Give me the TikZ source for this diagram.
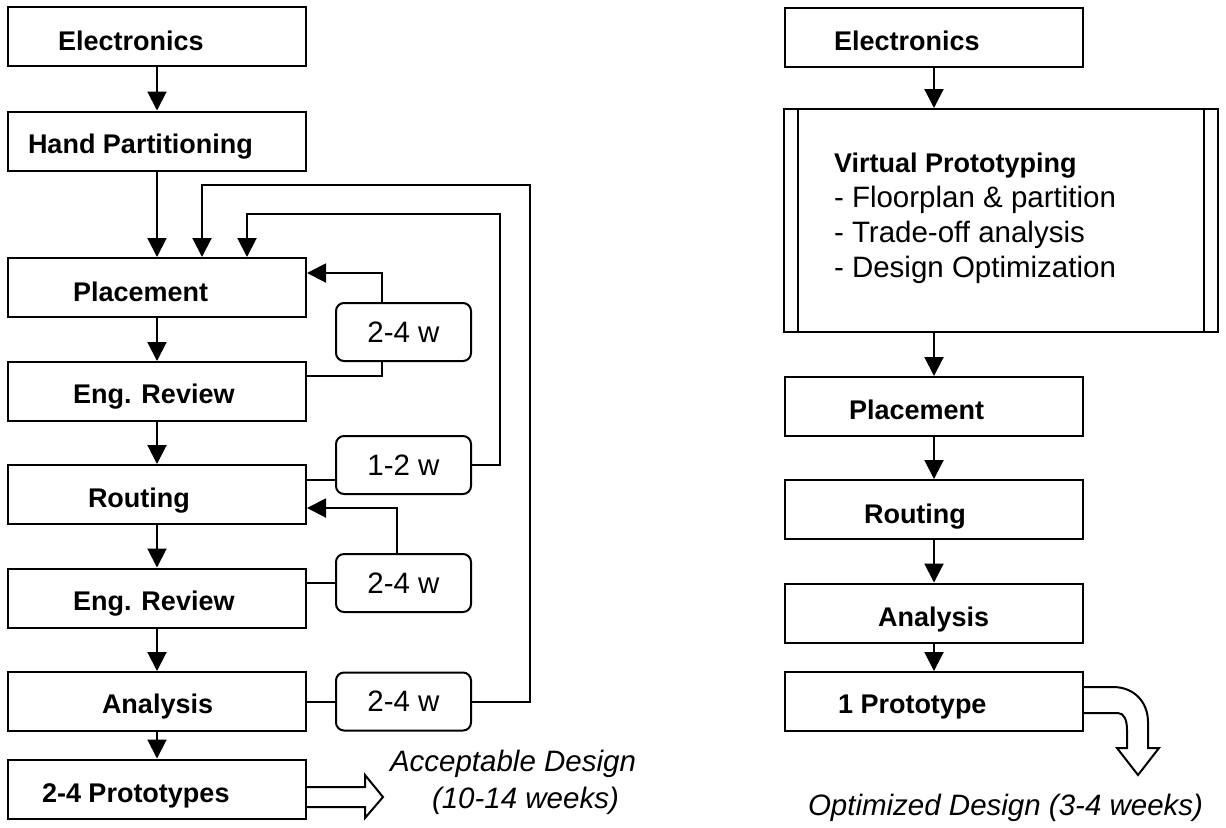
\documentclass[tikz,border=0pt]{standalone}
\usepackage{fontspec}
\setmainfont{Liberation Sans}
\usetikzlibrary{arrows.meta}

\begin{document}
\begin{tikzpicture}[x=0.5pt,y=-0.5pt,line width=1pt,
    >={Triangle[length=9.5pt,width=9.5pt]},
    box/.style={draw,minimum width=149pt,minimum height=29.5pt,inner sep=0pt},
    wk/.style={draw,rounded corners=4pt,minimum width=67.5pt,minimum height=29pt,inner sep=0pt,font=\fontsize{14.75}{17}\selectfont},
    lbl/.style={anchor=base west,inner sep=0pt,font=\fontsize{13.5}{16}\selectfont\bfseries},
    txt/.style={anchor=base west,inner sep=0pt,font=\fontsize{14.75}{17}\selectfont},
    note/.style={anchor=base west,inner sep=0pt,font=\fontsize{14.75}{17}\selectfont\itshape}]
    \useasboundingbox (0,0) rectangle (1226,827);

    % Left flow
    \node[box] (le) at (157,36.5) {};
    \node[lbl] (let) at (57,50) {Electronics};
    \node[box] (lh) at (157,141) {};
    \node[lbl] (lht) at (27,153) {Hand Partitioning};
    \node[box] (lp) at (157,287.5) {};
    \node[lbl] (lpt) at (72,301) {Placement};
    \node[box] (lr1) at (157,391.5) {};
    \node[lbl] (lr1t) at (72,403) {Eng. Review};
    \node[box] (lro) at (157,494.5) {};
    \node[lbl] (lrot) at (87,507) {Routing};
    \node[box] (lr2) at (157,598) {};
    \node[lbl] (lr2t) at (72,610) {Eng. Review};
    \node[box] (la) at (157,701.5) {};
    \node[lbl] (lat) at (101,713) {Analysis};
    \node[box] (lpr) at (157,789) {};
    \node[lbl] (lprt) at (41,802) {2-4 Prototypes};

    \draw[->] (le) -- (lh);
    \draw[->] (lh) -- (lp);
    \draw[->] (lp) -- (lr1);
    \draw[->] (lr1) -- (lro);
    \draw[->] (lro) -- (lr2);
    \draw[->] (lr2) -- (la);
    \draw[->] (la) -- (lpr);

    % Iterations
    \node[wk] (fa) at (403.5,332) {2-4 w};
    \node[wk] (fb) at (403.5,465) {1-2 w};
    \node[wk] (fc) at (403.5,583) {2-4 w};
    \node[wk] (fd) at (403.5,701.5) {2-4 w};
    \coordinate (kb) at (500,214);
    \coordinate (kd) at (530,185);

    \draw[->] ([xshift=-10.75pt]fa.north) |- ([yshift=7.25pt]lp.east);
    \draw ([xshift=-10.75pt]fa.south) |- ([yshift=7.75pt]lr1.east);
    \draw ([yshift=7.25pt]lro.east) -- ([yshift=-7.5pt]fb.west);
    \draw[->] (fb.east) -| (kb) -| ([xshift=45pt]lp.north);
    \draw (lr2.east |- fc.west) -- (fc.west);
    \draw[->] ([xshift=-3.25pt]fc.north) |- ([yshift=-6.75pt]lro.east);
    \draw (la.east) -- (fd.west);
    \draw[->] (fd.east) -| (kd) -| ([xshift=22.5pt]lp.north);

    % Result
    \draw (lpr.east |- 0,787) -- (365,787) -- (365,775) -- (383,797) -- (365,818) -- (365,807) -- (lpr.east |- 0,807);
    \node[note] (acc) at (389,771) {Acceptable Design};
    \node[note] (accw) at (431,808) {(10-14 weeks)};

    % Right flow
    \node[box] (re) at (934,37) {};
    \node[lbl] (ret) at (833,50) {Electronics};
    \node[draw,minimum width=217pt,minimum height=111.5pt,inner sep=0pt] (rv) at (1001,220.5) {};
    \draw ([xshift=7.5pt]rv.north west) -- ([xshift=7.5pt]rv.south west);
    \draw ([xshift=-7.5pt]rv.north east) -- ([xshift=-7.5pt]rv.south east);
    \node[lbl] (rvt) at (833,172) {Virtual Prototyping};
    \node[txt] (rv1) at (833,207) {- Floorplan \& partition};
    \node[txt] (rv2) at (833,242) {- Trade-off analysis};
    \node[txt] (rv3) at (833,277) {- Design Optimization};
    \node[box] (rp) at (934,406.5) {};
    \node[lbl] (rpt) at (848,419) {Placement};
    \node[box] (rr) at (934,509.5) {};
    \node[lbl] (rrt) at (863,523) {Routing};
    \node[box] (ra) at (934,613) {};
    \node[lbl] (rat) at (877,626) {Analysis};
    \node[box] (r1) at (934,701.5) {};
    \node[lbl] (r1t) at (837,713) {1 Prototype};

    \draw[->] (re) -- (re.south |- rv.north);
    \draw[->] (rp.north |- rv.south) -- (rp);
    \draw[->] (rp) -- (rr);
    \draw[->] (rr) -- (ra);
    \draw[->] (ra) -- (r1);

    % Result
    \draw (r1.east |- 0,687) -- (1113,687) .. controls (1134,687) and (1148,702) .. (1148,722) -- (1148,748) -- (1159,748) -- (1138,775) -- (1117,748) -- (1127,748) -- (1127,730) .. controls (1127,720) and (1124,713) .. (1118,713) -- (r1.east |- 0,713);
    \node[note] (opt) at (807,815) {Optimized Design (3-4 weeks)};
\end{tikzpicture}
\end{document}
